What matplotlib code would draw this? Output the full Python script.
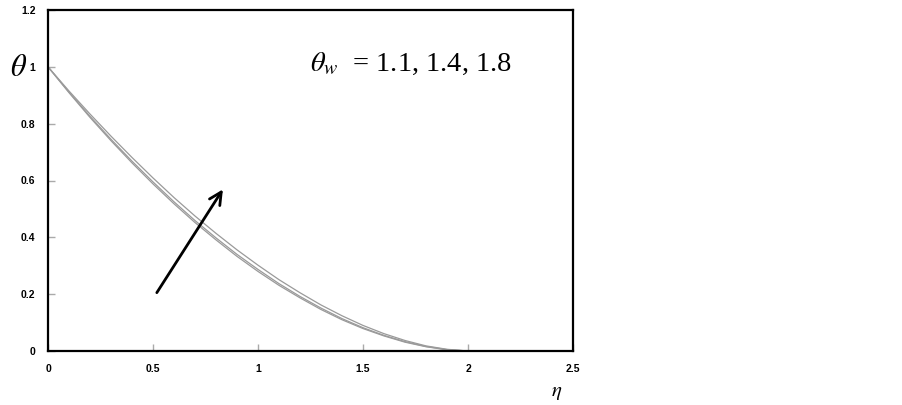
import numpy as np
import matplotlib
matplotlib.use("Agg")
import matplotlib.pyplot as plt

# eta grid and temperature profiles
eta = [0.0, 0.1, 0.2, 0.3, 0.4, 0.5, 0.6, 0.7, 0.8, 0.9, 1.0,
       1.1, 1.2, 1.3, 1.4, 1.5, 1.6, 1.7, 1.8, 1.9, 2.0]
theta_11 = [1.0, 0.909, 0.822, 0.740, 0.662, 0.588, 0.518, 0.452, 0.391, 0.333, 0.280,
            0.231, 0.187, 0.146, 0.110, 0.079, 0.053, 0.031, 0.015, 0.004, 0.0]
theta_14 = [1.0, 0.911, 0.826, 0.745, 0.668, 0.595, 0.525, 0.459, 0.398, 0.340, 0.287,
            0.237, 0.192, 0.151, 0.114, 0.082, 0.055, 0.033, 0.016, 0.005, 0.0]
theta_18 = [1.0, 0.915, 0.834, 0.756, 0.681, 0.609, 0.540, 0.475, 0.414, 0.356, 0.302,
            0.251, 0.205, 0.162, 0.124, 0.090, 0.061, 0.037, 0.018, 0.006, 0.0]

xticks = [0, 0.5, 1, 1.5, 2, 2.5]
xtick_labels = ["0", "0.5", "1", "1.5", "2", "2.5"]
yticks = [0, 0.2, 0.4, 0.6, 0.8, 1.0, 1.2]
ytick_labels = ["0", "0.2", "0.4", "0.6", "0.8", "1", "1.2"]

plt.rcParams['mathtext.fontset'] = 'stix'

fig = plt.figure(figsize=(9.02, 4.05), dpi=100)
ax = fig.add_axes([48 / 902, 54 / 405, 525 / 902, 341 / 405])

for th in (theta_11, theta_14, theta_18):
    ax.plot(eta, th, color='#9a9a9a', lw=0.9)

ax.set_xlim(0, 2.5)
ax.set_ylim(0, 1.2)
ax.set_xticks(xticks)
ax.set_xticklabels(xtick_labels)
ax.set_yticks(yticks)
ax.set_yticklabels(ytick_labels)
ax.tick_params(direction='in', length=5, width=1, color='#aaaaaa',
               labelsize=7.5, pad=9)
for lab in ax.get_xticklabels() + ax.get_yticklabels():
    lab.set_family('Liberation Sans')
    lab.set_weight('bold')
for s in ax.spines.values():
    s.set_linewidth(1.6)
    s.set_color('black')

# arrow showing increasing theta_w
ax.annotate('', xy=(0.84, 0.577), xytext=(0.511, 0.197),
            arrowprops=dict(arrowstyle='->', lw=2, color='black',
                            mutation_scale=22))

ax.text(1.25, 1.01, r'$\theta_w$  = 1.1, 1.4, 1.8', fontsize=20.5,
        family='Liberation Serif', va='center')

fig.text(19 / 902, 1 - 68 / 405, r'$\theta$', fontsize=22, ha='center', va='center')
fig.text(557 / 902, 1 - 392 / 405, r'$\eta$', fontsize=15, ha='center', va='center')

fig.savefig('out.png', dpi=100)
